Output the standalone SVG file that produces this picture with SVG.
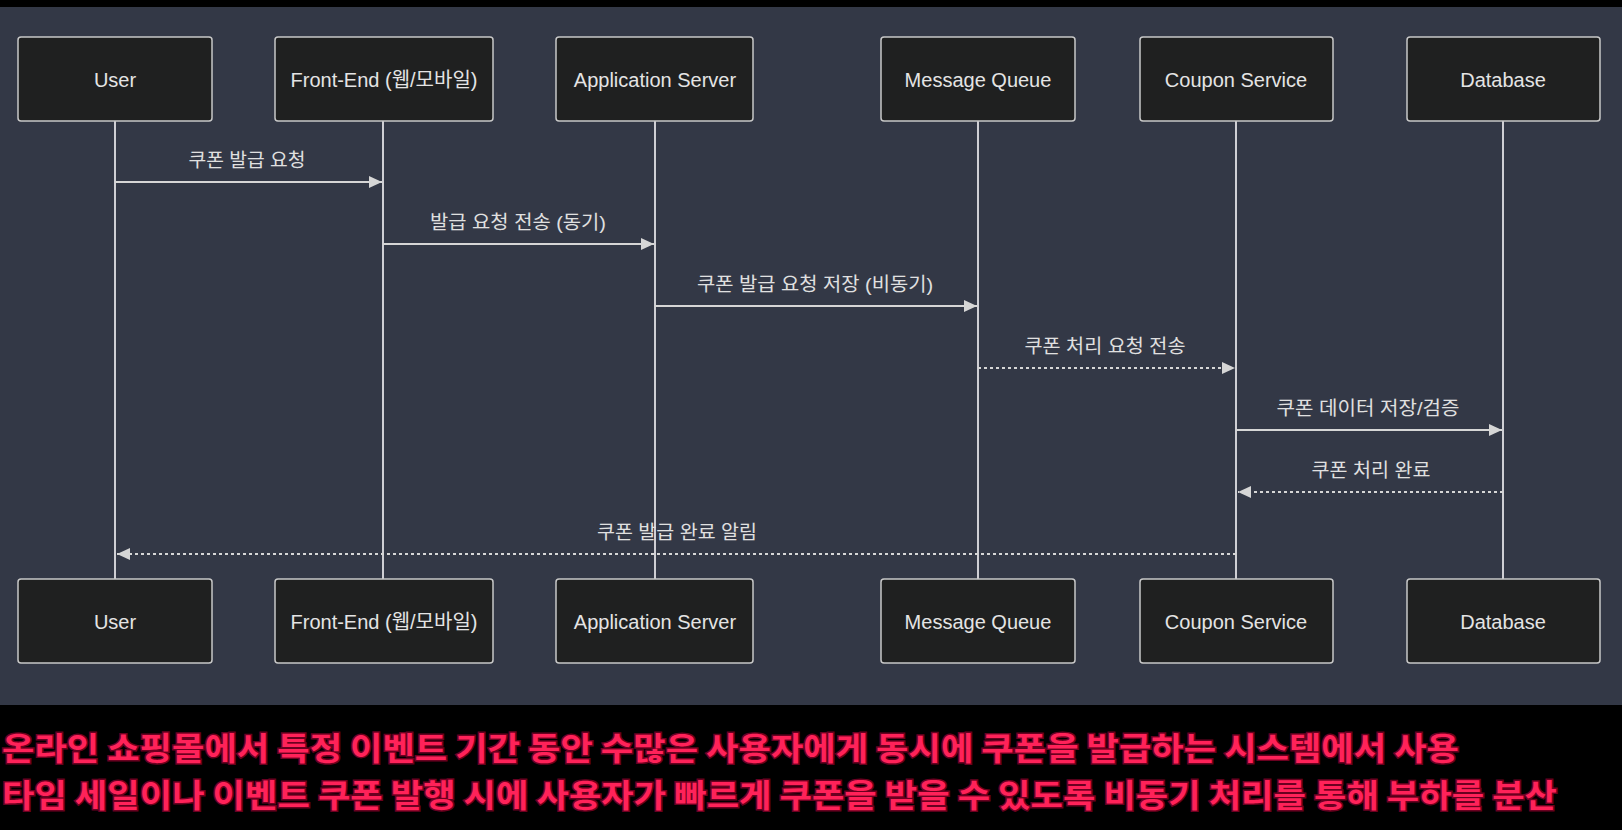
<svg xmlns="http://www.w3.org/2000/svg" width="1622" height="830" viewBox="0 0 1622 830">
  <defs>
    <marker id="arrow" markerUnits="userSpaceOnUse" markerWidth="13" markerHeight="12" refX="13" refY="6" orient="auto">
      <path d="M0,0 L13,6 L0,12 z" fill="#d6d6d6"/>
    </marker>
  </defs>
  <style>
    .actor rect { fill: #1f2020; stroke: #c8c8c8; stroke-width: 1.5; }
    .actor text { fill: #e4e4e4; font-family: "Liberation Sans", "Noto Sans CJK KR", sans-serif; font-size: 20px; text-anchor: middle; }
    .lifeline { stroke: #cfcfd4; stroke-width: 2; fill: none; }
    .msg { stroke: #d6d6d6; stroke-width: 2; fill: none; marker-end: url(#arrow); }
    .dotted { stroke-dasharray: 3 3; }
    .label { fill: #e0e0e0; font-family: "Liberation Sans", "Noto Sans CJK KR", sans-serif; font-size: 19px; text-anchor: middle; }
    .caption { fill: #ff2259; stroke: #6a0020; stroke-width: 3; paint-order: stroke; font-family: "Noto Sans CJK KR", sans-serif; font-size: 32px; font-weight: 700; }
  </style>

  <rect x="0" y="0" width="1622" height="830" fill="#000000"/>
  <rect x="0" y="7" width="1622" height="698" fill="#333846"/>

  <g id="lifelines">
    <line class="lifeline" x1="115" y1="121" x2="115" y2="579"/>
    <line class="lifeline" x1="383" y1="121" x2="383" y2="579"/>
    <line class="lifeline" x1="655" y1="121" x2="655" y2="579"/>
    <line class="lifeline" x1="978" y1="121" x2="978" y2="579"/>
    <line class="lifeline" x1="1236" y1="121" x2="1236" y2="579"/>
    <line class="lifeline" x1="1503" y1="121" x2="1503" y2="579"/>
  </g>

  <g id="user-top" class="actor"><rect x="18" y="37" width="194" height="84" rx="3"/><text x="115" y="87">User</text></g>
  <g id="frontend-top" class="actor"><rect x="275" y="37" width="218" height="84" rx="3"/><text x="384" y="87">Front-End (웹/모바일)</text></g>
  <g id="appserver-top" class="actor"><rect x="556" y="37" width="197" height="84" rx="3"/><text x="655" y="87">Application Server</text></g>
  <g id="mq-top" class="actor"><rect x="881" y="37" width="194" height="84" rx="3"/><text x="978" y="87">Message Queue</text></g>
  <g id="coupon-top" class="actor"><rect x="1140" y="37" width="193" height="84" rx="3"/><text x="1236" y="87">Coupon Service</text></g>
  <g id="db-top" class="actor"><rect x="1407" y="37" width="193" height="84" rx="3"/><text x="1503" y="87">Database</text></g>

  <g id="user-bottom" class="actor"><rect x="18" y="579" width="194" height="84" rx="3"/><text x="115" y="629">User</text></g>
  <g id="frontend-bottom" class="actor"><rect x="275" y="579" width="218" height="84" rx="3"/><text x="384" y="629">Front-End (웹/모바일)</text></g>
  <g id="appserver-bottom" class="actor"><rect x="556" y="579" width="197" height="84" rx="3"/><text x="655" y="629">Application Server</text></g>
  <g id="mq-bottom" class="actor"><rect x="881" y="579" width="194" height="84" rx="3"/><text x="978" y="629">Message Queue</text></g>
  <g id="coupon-bottom" class="actor"><rect x="1140" y="579" width="193" height="84" rx="3"/><text x="1236" y="629">Coupon Service</text></g>
  <g id="db-bottom" class="actor"><rect x="1407" y="579" width="193" height="84" rx="3"/><text x="1503" y="629">Database</text></g>

  <g id="connectors">
    <line class="msg" x1="115" y1="182" x2="382" y2="182"/>
    <text class="label" x="247" y="167" textLength="117" lengthAdjust="spacingAndGlyphs">쿠폰 발급 요청</text>

    <line class="msg" x1="383" y1="244" x2="654" y2="244"/>
    <text class="label" x="518" y="229" textLength="176" lengthAdjust="spacingAndGlyphs">발급 요청 전송 (동기)</text>

    <line class="msg" x1="655" y1="306" x2="977" y2="306"/>
    <text class="label" x="815" y="291" textLength="236" lengthAdjust="spacingAndGlyphs">쿠폰 발급 요청 저장 (비동기)</text>

    <line class="msg dotted" x1="978" y1="368" x2="1235" y2="368"/>
    <text class="label" x="1105" y="353" textLength="161" lengthAdjust="spacingAndGlyphs">쿠폰 처리 요청 전송</text>

    <line class="msg" x1="1236" y1="430" x2="1502" y2="430"/>
    <text class="label" x="1368" y="415" textLength="183" lengthAdjust="spacingAndGlyphs">쿠폰 데이터 저장/검증</text>

    <line class="msg dotted" x1="1503" y1="492" x2="1238" y2="492"/>
    <text class="label" x="1371" y="477" textLength="119" lengthAdjust="spacingAndGlyphs">쿠폰 처리 완료</text>

    <line class="msg dotted" x1="1236" y1="554" x2="117" y2="554"/>
    <text class="label" x="677" y="539" textLength="160" lengthAdjust="spacingAndGlyphs">쿠폰 발급 완료 알림</text>
  </g>

  <g id="caption">
    <text class="caption" x="2" y="759.5" textLength="1457" lengthAdjust="spacingAndGlyphs">온라인 쇼핑몰에서 특정 이벤트 기간 동안 수많은 사용자에게 동시에 쿠폰을 발급하는 시스템에서 사용</text>
    <text class="caption" x="2" y="806.5" textLength="1555" lengthAdjust="spacingAndGlyphs">타임 세일이나 이벤트 쿠폰 발행 시에 사용자가 빠르게 쿠폰을 받을 수 있도록 비동기 처리를 통해 부하를 분산</text>
  </g>
</svg>
